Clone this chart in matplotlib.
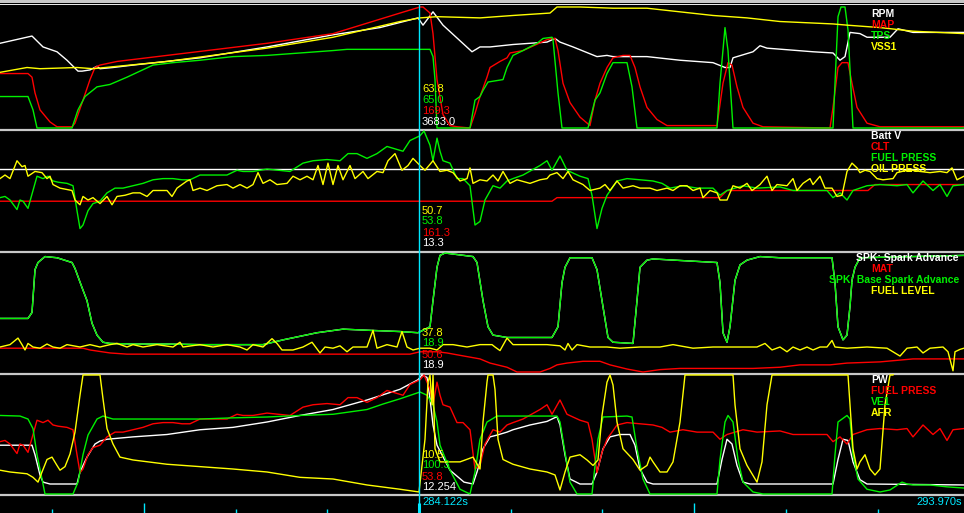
import numpy as np
import matplotlib.pyplot as plt

plt.rcParams['font.family'] = ['Liberation Sans', 'DejaVu Sans']

# x = log record in view (0..482), y = % of each gauge's range
cursor_rec = 209.5
cursor_time = '284.122s'
end_time = '293.970s'

# --- panel 1 ---
rpm = [(0,70),(16,76),(21.5,67),(28.5,63),(33.5,56),(39,47),(41,47),(45,48),(48.5,51),(50,49),(56.5,50),
       (66.5,52),(100,58),(133.5,67),(166.5,77),(190,83),(209,91),(211.5,85),(216.5,96),(221.5,85),(236,63),
       (240,67),(245,67),(256.5,69),(273.5,71),(277.5,74),(280,71),(286.5,67),(298.5,59),(303.5,60),(306.5,59),
       (323.5,59),(340,56),(356.5,54),(362.5,50),(365,50),(366.5,58),(376.5,63),(380,68),(383.5,66),(406.5,63),
       (416.5,62),(420,56),(422.5,59),(425,79),(430,78),(433.5,75),(445,75),(449,82),(456.5,79),(482,79)]
map_kpa = [(0,45),(14,45),(16,42),(17.5,29),(20,15),(25,5),(28.5,1),(36,1),(37.5,4),(41.5,23),(45,40),(47.5,50),
           (50,52),(58.5,55),(133.5,70),(166.5,78),(200,95),(210,100),(211.5,100),(215,95),(216.5,78),(218.5,40),
           (221.5,11),(225,2),(228.5,1),(235,0),(237.5,12),(240,26),(243.5,42),(245,50),(250,55),(253.5,58),
           (255,62),(261.5,64),(273.5,73),(276,74),(277.5,74),(279,64),(281.5,37),(285,21),(290,9),(295,2),
           (297.5,23),(300,37),(303.5,50),(306.5,58),(311.5,60),(315,60),(317.5,50),(320,34),(323.5,17),(328.5,7),
           (333.5,2),(358.5,2),(361.5,37),(364,54),(366,52),(368.5,34),(371.5,17),(376.5,4),(381.5,1),(415,0),
           (416.5,17),(419,50),(421,54),(424,54),(426,37),(428.5,17),(433.5,4),(440,1),(482,1)]
tps = [(0,26),(14,26),(16.5,15),(18.5,0),(36,0),(39,15),(42.5,26),(48.5,34),(55,36),(63.5,42),(70,47),(76.5,52),
       (86.5,54),(100,56),(116.5,59),(133.5,60),(150,62),(166.5,64),(173.5,65),(215,65),(216.5,59),(217.5,40),
       (218.5,0),(235,0),(237.5,23),(240,26),(241.5,31),(244,38),(251.5,40),(253.5,50),(256.5,60),(261.5,64),
       (268.5,70),(271.5,74),(276,75),(276.5,73),(279,29),(281,0),(294,0),(297.5,23),(300,29),(303.5,45),
       (306.5,54),(313.5,54),(316,34),(318.5,0),(358.5,0),(360,37),(362.5,83),(364,64),(366.5,0),(416.5,0),
       (419,92),(420.5,100),(422.5,100),(424,81),(426.5,0),(482,0)]
vss1 = [(0,46),(13.5,50),(20,49),(38.5,50),(46.5,49),(83.5,55),(133.5,66),(166.5,75),(200,88),(210,91),
        (218.5,92),(240,91),(256.5,93),(275,95),(278.5,100),(290,100),(306.5,99),(323.5,99),(340,96),
        (356.5,93),(373.5,91),(390,88),(416.5,86),(423.5,85),(440,83),(456.5,80),(482,78)]

# --- panel 2 ---
batt_v = [(0,68),(482,68)]
clt = [(0,41),(276,41),(278.5,44),(360,44),(363.5,50),(434,50),(437.5,55),(482,55)]
fuel_press = [(0,44),(2.5,45),(5,42),(8.5,34),(10,42),(11.5,41),(14,35),(16.5,50),(18.5,62),(21.5,60),(24,62),
              (26.5,58),(29,57),(33.5,56),(36.5,54),(38.5,33),(40,18),(41.5,21),(44,33),(46.5,39),(50,41),
              (53.5,48),(57.5,52),(61.5,52),(66.5,54),(71.5,56),(76.5,59),(81.5,60),(86.5,60),(91,59),(95,59),
              (100,63),(106.5,63),(113.5,63),(118.5,67),(121.5,66),(126.5,66),(133.5,68),(145,66),(151.5,73),
              (156.5,75),(163.5,76),(170,75),(174,81),(178.5,81),(183.5,77),(188.5,81),(193.5,87),(201.5,83),
              (205,92),(210,96),(212,100),(215,88),(216.5,75),(218.5,94),(220,83),(221.5,75),(225,73),
              (228.5,60),(231.5,60),(235,54),(237.5,21),(240,24),(242.5,42),(246.5,54),(250,52),(253.5,58),
              (256.5,60),(261.5,63),(270,71),(273.5,75),(276,67),(280,79),(283.5,67),(290,62),(294,60),(296,46),
              (298.5,18),(301,35),(303.5,46),(308.5,58),(313.5,60),(320,59),(326.5,58),(331,56),(335,52),
              (341.5,54),(348.5,52),(356.5,52),(360,46),(363.5,50),(371.5,54),(378.5,52),(390,53),(396.5,50),
              (406.5,50),(413.5,50),(416.5,44),(420,48),(423.5,42),(426.5,50),(433.5,54),(440,55),(448.5,54),
              (453.5,55),(456.5,48),(461.5,58),(466.5,50),(470,55),(473.5,45),(476.5,54),(482,55)]
oil_press = [(0,60),(2.5,63),(5,60),(8.5,75),(11,70),(12.5,71),(14,62),(17.5,66),(21,65),(23.5,60),(25,62),
             (26.5,55),(30,52),(36,50),(37.5,42),(40,38),(41.5,45),(44,42),(46.5,44),(50,39),(53.5,45),(56,38),
             (58.5,45),(62.5,46),(66.5,48),(70,48),(73.5,45),(76.5,50),(80,50),(83.5,50),(86,45),(88.5,52),
             (91,55),(93.5,58),(95,59),(96.5,50),(100,52),(103.5,50),(108.5,54),(113.5,55),(116.5,52),(120,55),
             (123.5,52),(126.5,55),(129,65),(131.5,56),(135,59),(138.5,55),(143.5,56),(146.5,62),(150,59),
             (153.5,62),(156.5,59),(159,71),(161.5,55),(164,73),(166.5,55),(169,71),(171.5,59),(175,71),
             (177.5,60),(181.5,66),(184,60),(188.5,66),(191.5,65),(194,75),(197.5,81),(201,67),(204,71),
             (206.5,77),(210,71),(212.5,67),(216.5,75),(220,66),(223.5,67),(226.5,65),(230,58),(233.5,60),
             (235,69),(236.5,56),(240,59),(243.5,58),(246.5,63),(249,58),(251.5,66),(255,56),(258.5,59),
             (265,56),(270,59),(273.5,60),(275,63),(278.5,65),(281.5,60),(284,66),(286.5,59),(291.5,55),
             (295,50),(300,52),(302.5,55),(305,50),(308.5,58),(311.5,52),(316.5,54),(320,52),(325,52),
             (328.5,50),(333.5,52),(336.5,50),(340,54),(343.5,54),(346.5,50),(350,52),(351.5,44),(355,50),
             (358.5,48),(360,42),(363.5,42),(366.5,54),(370,52),(373.5,56),(376,50),(380,55),(383.5,62),
             (386,50),(388.5,55),(393.5,54),(396.5,60),(398.5,50),(401.5,56),(405,60),(406.5,55),(410,62),
             (412.5,52),(416,52),(418.5,45),(421,46),(423.5,66),(426,73),(428.5,69),(430,65),(432.5,67),
             (435,66),(438.5,60),(441.5,59),(446.5,60),(448.5,65),(453.5,67),(456.5,67),(460,66),(465,65),
             (470,66),(473.5,65),(476,69),(478.5,59),(482,62)]

# --- panel 3 ---
base_spark = [(0,45),(14,45),(16,50),(17.5,86),(19,92),(22.5,97),(28.5,96),(36,92),(37.5,87),(41,71),
              (43.5,60),(46,41),(48.5,31),(51.5,25),(55,24),(66.5,23.5),(83.5,23.5),(100,23),(131.5,23),
              (141.5,27),(158.5,33),(171.5,36),(185,35),(200,34),(209,33),(215,38),(216.5,60),(218.5,88),
              (220,98),(222.5,100),(236.5,97),(238.5,92),(240,76),(241.5,60),(244,38),(246.5,31),(253.5,29),
              (276,29),(279,38),(281,75),(282.5,88),(285,96),(296,96),(298.5,86),(301,60),(304,29),(306.5,25),
              (316.5,24),(318.5,60),(320,88),(323.5,94),(326.5,95),(358.5,92),(360,75),(361.5,33),(363.5,25),
              (365,38),(367.5,77),(370,90),(373.5,94),(380,97),(390,96),(416,96),(417.5,75),(419,38),
              (421.5,27),(423.5,31),(425,55),(426,77),(427.5,88),(430,96),(482,98)]
spark_advance = base_spark  # same trace, drawn underneath
mat = [(0,20),(41.5,20),(45,18.5),(55,16),(63.5,15),(205,15),(210,17),(218.5,17),(223.5,16),(230,14),(240,11),
       (245,7.5),(253.5,4),(258.5,0),(270,0),(275,3),(278.5,6),(283.5,7.5),(291.5,9),(300,9),(305,6),
       (313.5,2.5),(321.5,0),(330,2),(340,3),(376.5,3),(390,4),(400,6),(415,6),(423.5,7.5),(440,8.5),
       (456.5,11),(482,11)]
fuel_level = [(0,21),(5,23),(9,28.5),(11,23),(12.5,18.5),(14,24),(16.5,21),(20,20),(23.5,23.5),(26.5,21),
              (30,20),(33.5,23),(40,21),(45,23),(50,21),(55,23),(58.5,24),(63.5,21),(66.5,23),(71.5,21),
              (78.5,23),(86.5,21),(90,25),(91.5,21),(100,23),(106.5,21),(113.5,23),(120,21),(123.5,18.5),
              (126.5,23),(131.5,21),(136,28),(138.5,24),(141,18.5),(146.5,18.5),(151.5,21),(156,25),(160,16),
              (162.5,21),(166.5,20),(170,22),(173.5,17),(176.5,21),(180,21),(183.5,21),(186.5,35),(188.5,20),
              (193.5,23),(198.5,21),(201,34),(203.5,21),(206.5,18.5),(210,20),(215,20),(218.5,18.5),
              (221.5,23),(226.5,23),(233.5,21),(240,23),(246,23),(247.5,21),(250,18),(253.5,28.5),(256.5,23),
              (273.5,23),(280,22),(282.5,18.5),(284,24),(286,18.5),(288.5,23),(295,21),(303.5,21),(310,20),
              (320,21),(330,21),(336.5,23),(346.5,20),(356.5,21),(366.5,21),(378.5,21),(382.5,24),(386,18.5),
              (390,21),(393.5,17),(396.5,21),(400,18.5),(403.5,21),(406.5,18.5),(410,21),(413.5,21),
              (416,26.5),(417.5,21),(423.5,20),(433.5,21),(443.5,20),(450,13.4),(453.5,20),(458.5,21),
              (461.5,16),(465,20),(471.5,21),(474,17),(476.5,1),(477.5,17),(480,19),(482,20)]

# --- panel 4 ---
pw = [(0,41),(16,41),(17.5,33),(20,16),(21.5,10),(25,8.4),(38.5,8.4),(40,18.5),(43.5,31),(47.5,42),(50,44.5),
      (53.5,46),(66.5,48),(83.5,50),(100,54),(116.5,56),(133.5,60.5),(150,66),(166.5,71),(183.5,79),(200,88),
      (209,96),(211,100),(213.5,98),(215,80),(216.5,58),(218.5,41),(225,20),(232,10),(236.5,8.4),(238.5,18.5),
      (240,27),(241.5,38),(245,48),(248.5,49.5),(253.5,52),(256.5,54),(265,58),(273.5,61),(278.5,65),(280,58),
      (282.5,33),(285,12.6),(290,8.4),(296,8.4),(298.5,18.5),(301.5,38),(305,48),(310,50),(315,50),(317.5,41),
      (320,21),(323.5,10),(326.5,8.4),(358.5,8.4),(361,29),(363.5,46),(366,42),(368.5,24),(371.5,10),
      (375,8.4),(416.5,8.4),(419,29),(421.5,46),(424,45),(426.5,27),(430,12),(433.5,8.4),(482,7.6)]
ve1 = [(0,66),(10,65.5),(14,63),(16.5,55),(18.5,33),(21,12.6),(22.5,0),(36.5,0),(39,10),(41.5,33),(44,49.5),
       (48.5,63),(51.5,65.5),(56.5,63),(100,63),(116.5,64),(133.5,64.7),(150,66),(166.5,67),(175,69),
       (183.5,71),(191.5,75.6),(200,80),(210,85.7),(213.5,83),(216.5,75),(218.5,60.5),(220,41),(225,20),
       (230,4),(235,0),(237.5,18.5),(240,46),(241.5,52),(243.5,60.5),(248.5,65.5),(278.5,65.5),(280,60.5),
       (282.5,35),(285,10),(288.5,0),(296,0),(297.5,24),(299,46),(301.5,64.7),(313.5,65.5),(316,64.7),
       (318.5,38),(321.5,12.6),(325,0),(358.5,0),(360,29),(362.5,60.5),(364,66),(366.5,60.5),(369,29),
       (371.5,10),(376.5,1.7),(381.5,0),(416,0),(417.5,33),(419,60.5),(423.5,66),(425,63),(426.5,33),
       (429,12.6),(433.5,4),(440,1.7),(445,3.4),(451,10),(453.5,8.4),(456.5,7.6),(465,7.6),(473.5,6),(482,5)]
afr = [(0,20),(5,18.5),(13.5,17),(16.5,14),(19,10),(21,18.5),(23.5,29),(26,31),(28.5,24),(30,20),(32.5,23),
       (35,33.6),(37.5,52),(40,83),(41.5,100),(50,100),(51.5,80),(53.5,55),(56.5,42),(60,31),(66.5,28.6),
       (83.5,25),(100,23),(116.5,21),(133.5,18.5),(150,14),(166.5,12.6),(183.5,7.6),(200,4),(209.5,1.7),
       (212.5,46),(214,94),(215,100),(216,75),(216.5,100),(217.5,38),(220,27),(230,27),(236.5,31),(240,21),
       (241.5,60.5),(243.5,94),(244,100),(246.5,100),(247.5,88),(249,46),(251.5,29),(256.5,25),(265,21),
       (273.5,18.5),(277.5,16),(280,3.4),(282.5,18.5),(285,31),(290,33),(293.5,28.6),(296.5,24),(299,28.6),
       (301,66),(303.5,94),(305,100),(306.5,91.6),(308.5,60.5),(311.5,38),(316.5,29),(320,20),(323.5,24),
       (325,31),(326.5,27),(330,18.5),(333.5,18.5),(336.5,27),(340,60.5),(342.5,100),(366.5,100),(367.5,75),
       (370,38),(373.5,24),(378.5,10),(381,27),(383.5,75),(386,100),(424,100),(425,75),(426.5,38),(428.5,21),
       (430,27),(432.5,33),(435,21),(437.5,16),(440,21),(442.5,75),(445,100),(446.5,100),(448,110),(482,110)]

panel1_names = ['RPM', 'MAP', 'TPS', 'VSS1']
panel1_cursor = ['3683.0', '169.3', '65.0', '63.8']
panel2_names = ['Batt V', 'CLT', 'FUEL PRESS', 'OIL PRESS']
panel2_cursor = ['13.3', '161.3', '53.8', '50.7']
panel3_names = ['SPK: Spark Advance', 'MAT', 'SPK: Base Spark Advance', 'FUEL LEVEL']
panel3_cursor = ['18.9', '50.6', '18.9', '37.8']
panel4_names = ['PW', 'FUEL PRESS', 'VE1', 'AFR']
panel4_cursor = ['12.254', '53.8', '100.3', '10.5']

W, H = 964, 513
colors = ['#ffffff', '#ff0000', '#00f000', '#ffff00']
cyan = '#00e8ff'
grey = '#c8c8c8'
LW = 1.0

# (top px, bottom px, first legend row px)
panels = [
    ([rpm, map_kpa, tps, vss1], panel1_names, panel1_cursor, 7, 128, 14),
    ([batt_v, clt, fuel_press, oil_press], panel2_names, panel2_cursor, 131, 250, 136),
    ([spark_advance, mat, base_spark, fuel_level], panel3_names, panel3_cursor, 253, 372, 258),
    ([pw, fuel_press, ve1, afr], panel4_names, panel4_cursor, 375, 494, 380),
]

fig = plt.figure(figsize=(W / 100, H / 100), dpi=100, facecolor='black')

# background with separators
bg = fig.add_axes([0, 0, 1, 1])
bg.set_xlim(0, W)
bg.set_ylim(H, 0)
bg.axis('off')
bg.add_patch(plt.Rectangle((0, 0), W, 3, color=grey, lw=0))
bg.axhline(3.5, color='#e8e8e8', lw=0.72)
for ysep in [129.5, 251.5, 373.5, 494.5]:
    bg.axhline(ysep, color=grey, lw=1.6)

pad = 1.5
for series, names, readouts, ytop, ybot, ylab in panels:
    h = ybot - ytop
    ax = fig.add_axes([0, 1 - (ybot + pad) / H, 1, (h + 2 * pad) / H])
    ax.set_xlim(0, 482)
    ax.set_ylim(-pad * 100 / h, 100 + pad * 100 / h)
    ax.axis('off')
    for s, c in zip(series, colors):
        x, y = np.array(s).T
        ax.plot(x, y, color=c, lw=LW)
    for i, (txt, c) in enumerate(zip(readouts, colors)):
        ax.annotate(txt, xy=(cursor_rec, 0), xytext=(2.2, (8 + 11 * i) * 0.72 - pad * 0.72),
                    textcoords='offset points', color=c, fontsize=8, va='center', ha='left')

# overlay: cursor, legends, time ticks, time labels
top = fig.add_axes([0, 0, 1, 1])
top.set_xlim(0, 482)
top.set_ylim(H, 0)
top.axis('off')
top.vlines(cursor_rec, 4, H, color=cyan, lw=1.0)
for k in range(-4, 6):
    xt = cursor_rec + 45.85 * k
    top.vlines(xt, 503 if k % 3 == 0 else 509, H, color=cyan, lw=1.0 if k else 2.2)
top.text(cursor_rec + 1.6, 502, cursor_time, color=cyan, fontsize=8, va='center', ha='left')
top.text(481, 502, end_time, color=cyan, fontsize=8, va='center', ha='right')

for series, names, readouts, ytop, ybot, ylab in panels:
    for i, (name, c) in enumerate(zip(names, colors)):
        if len(name) > 12:
            top.text(959, ylab + 11 * i, name, color=c, fontsize=7.5, fontweight='bold',
                     va='center', ha='right', transform=bg.transData)
        else:
            top.text(871, ylab + 11 * i, name, color=c, fontsize=7.5, fontweight='bold',
                     va='center', ha='left', transform=bg.transData)

fig.savefig('out.png', dpi=100, facecolor='black')
